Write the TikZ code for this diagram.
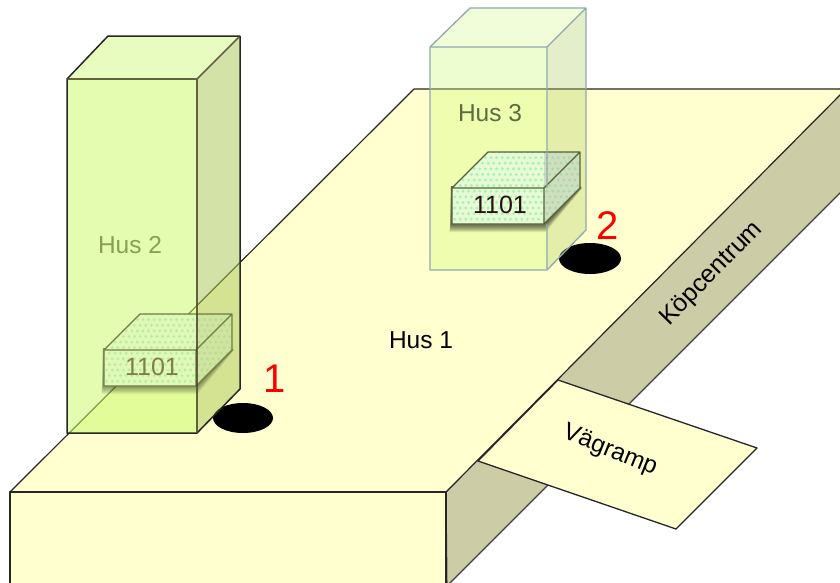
\documentclass[tikz,border=0pt]{standalone}
\usepackage{fontspec}
\setmainfont{Liberation Sans}
\definecolor{plate}{HTML}{FFFFD0}
\definecolor{plateside}{HTML}{CCCCA6}
\definecolor{bfront}{RGB}{204,251,111}
\definecolor{btop}{RGB}{215,250,140}
\definecolor{bside}{RGB}{175,204,95}
\definecolor{edge3}{HTML}{8FA9AD}
\definecolor{basetwo}{HTML}{E2F8B8}
\definecolor{dottwo}{HTML}{B4F0A0}
\definecolor{sidetwo}{HTML}{B8C880}
\definecolor{edgetwo}{HTML}{6F7D42}
\definecolor{texttwo}{HTML}{7F7F48}
\definecolor{basethree}{HTML}{E6FBD6}
\definecolor{dotthree}{HTML}{A9F2B0}
\definecolor{sidethree}{HTML}{B0B8A0}
\definecolor{edgethree}{HTML}{566238}
\definecolor{textthree}{HTML}{2A1010}
% x, y of the front top-left corner; label colour; edge colour; base; dot; shadow opacity; side tint
\newcommand{\brick}[8]{%
  \begin{scope}[shift={(#1,#2)}]
    \foreach \i in {1,...,9}
      \fill[black,opacity=#7] (-1-\i*0.15,36+\i*0.9) -- (92+\i*0.2,36+\i*0.9) -- (128+\i*0.25,0) -- (128,-2) -- (-1,-2) -- cycle;
    \fill[#5] (0,0) -- (36,-36) -- (128,-36) -- (128,0) -- (92,36) -- (0,36) -- cycle;
    \begin{scope}
      \clip (0,0) -- (36,-36) -- (128,-36) -- (128,0) -- (92,36) -- (0,36) -- cycle;
      \foreach \r in {0,...,13}
        \foreach \c in {0,...,24}
          \fill[#6] ({-3+\c*5.6+mod(\r,2)*2.8},{-36+\r*5.6}) circle (1.6);
      \fill[#8,opacity=.42] (92,-36) -- (128,-36) -- (128,0) -- (92,36) -- cycle;
    \end{scope}
    \draw[#4,line width=1.2pt,line join=round]
      (0,0) -- (36,-36) -- (128,-36) -- (128,0) -- (92,36) -- (0,36) -- cycle
      (0,0) -- (92,0) -- (128,-36) (92,0) -- (92,36);
    \node[labeltext,text=#3] at (48,17) {1101};
  \end{scope}}
\tikzset{
  labeltext/.style={font=\fontsize{25}{25}\selectfont,inner sep=0pt},
  bigtext/.style={font=\fontsize{24.5}{25}\selectfont,inner sep=0pt},
  num/.style={font=\fontsize{40}{40}\selectfont,inner sep=0pt,text=red},
  platef/.style={fill=plate,draw=black!85,line width=1.2pt,line join=round},
  sidef/.style={fill=plateside,draw=black!75,line width=1.1pt,line join=round},
}
\begin{document}
\begin{tikzpicture}[x=1pt,y=-1pt]
\useasboundingbox (0,0) rectangle (840,582);
\clip (0,0) rectangle (840,582);
\fill[white] (0,0) rectangle (840,582);
% main block
\draw[sidef] (446,492) -- (846,83) -- (846,187) -- (447,586) -- cycle;
\draw[platef] (10,492) -- (414,89) -- (846,89) -- (446,492) -- cycle;
\draw[platef] (10,492) rectangle (446,590);
\node[bigtext] (hus1) at (421,340) {Hus 1};
\node[labeltext,rotate=45.5] (kop) at (712,274) {Köpcentrum};
% ramp
\draw[platef,line width=1.3pt] (558,380) -- (757,448) -- (676,529) -- (478,461) -- cycle;
\node[labeltext,font=\fontsize{24.5}{25}\selectfont,rotate=-22] (ramp) at (610,451) {Vägramp};
% holes
\fill[black] (243,418) ellipse (30 and 15);
\fill[black] (590,258.5) ellipse (31 and 15.5);
\node[num] (n1) at (275,379) {1};
\node[num] (n2) at (608,226) {2};
% house 2
\node[bigtext,text=black!80] (hus2) at (130,245) {Hus 2};
\begin{scope}[fill opacity=0.55]
  \fill[bfront] (67,79) rectangle (197,433);
  \fill[btop] (67,79) -- (108,36) -- (240,36) -- (197,79) -- cycle;
  \fill[bside] (197,79) -- (240,36) -- (240,389) -- (197,433) -- cycle;
\end{scope}
\brick{104}{350}{texttwo}{edgetwo}{basetwo}{dottwo}{0.05}{sidetwo}
\draw[black!85,line width=1.5pt,line join=round]
  (67,79) -- (108,36) -- (240,36) -- (240,389) -- (197,433) -- (67,433) -- cycle;
\draw[black!60!olive,opacity=.85,line width=1.6pt] (67,79) -- (197,79) -- (197,433) (197,79) -- (240,36);
% house 3
\node[bigtext,text=black!85] (hus3) at (490,113) {Hus 3};
\begin{scope}[fill opacity=0.33]
  \fill[bfront] (430,47) rectangle (547,270);
  \fill[btop] (430,47) -- (470,8) -- (586,8) -- (547,47) -- cycle;
  \fill[bside] (547,47) -- (586,8) -- (586,230) -- (547,270) -- cycle;
\end{scope}
\brick{452}{188}{textthree}{edgethree}{basethree}{dotthree}{0.085}{sidethree}
\draw[edge3,line width=1.3pt,line join=round]
  (430,47) -- (470,8) -- (586,8) -- (586,230) -- (547,270) -- (430,270) -- cycle
  (430,47) -- (547,47) (547,224) -- (547,270) (547,47) -- (547,188) (547,47) -- (586,8);
\end{tikzpicture}
\end{document}
